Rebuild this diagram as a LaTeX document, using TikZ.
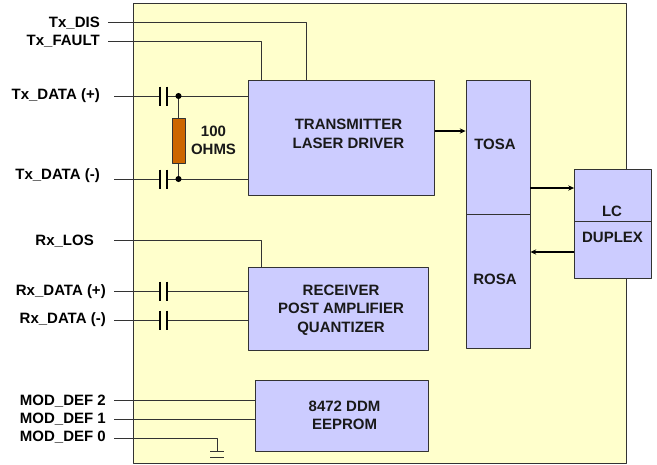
\documentclass[tikz,border=0pt]{standalone}
\usepackage{fontspec}
\setmainfont{Liberation Sans}
\usetikzlibrary{arrows.meta}
\definecolor{modyellow}{HTML}{FFFFCC}
\definecolor{blockblue}{HTML}{CCCCFF}
\definecolor{resbrown}{HTML}{CC6600}
\definecolor{wiregray}{HTML}{333333}
\tikzset{
  block/.style={draw=wiregray, line width=.7pt, fill=blockblue, inner sep=0pt},
  sig/.style={anchor=east, inner sep=0pt, font=\fontsize{12.8}{15.8}\selectfont\bfseries},
  blocktext/.style={align=center, inner sep=0pt, font=\fontsize{12.8}{15.8}\selectfont\bfseries, text=black!90},
  wire/.style={draw=wiregray, line width=.7pt},
  flow/.style={draw=black, line width=.9pt, -{Stealth[length=5pt,width=4.5pt]}},
  plate/.style={draw=black, line width=1.3pt}
}
\begin{document}
\begin{tikzpicture}[x=.03cm, y=-.03cm, line join=round]
		\useasboundingbox (0,0) rectangle (657,464);
		% module outline
		\node[draw=wiregray, line width=.7pt, fill=modyellow, inner sep=0pt, minimum width=14.79cm, minimum height=13.8cm] (module) at (379.75,233.25) {};
		% signal names
		\foreach \n/\x/\y/\t in {txdis/100/23/Tx\_DIS, txfault/100/41/Tx\_FAULT, txp/100/96/Tx\_DATA (+), txn/100/176/Tx\_DATA (-), rxlos/94/241/Rx\_LOS, rxp/106/292/Rx\_DATA (+), rxn/106/320/Rx\_DATA (-), modb/106/401/MOD\_DEF 2, moda/106/419/MOD\_DEF 1, modz/106/437/MOD\_DEF 0}
		\node[sig] (\n) at (\x,\y) {\t};
		% free ends of the wires
		\foreach \n/\x/\y in {txdiss/108/22, txfaults/108/41, txps/114/96, txns/114/179, rxloss/114/240, rxps/114/291, rxns/114/320, modbs/114/400, modas/114/419, modzs/114/438, txdise/306/80, txfaulte/261.5/80, rxlose/261.5/267, gnd/217/451}
		\coordinate (\n) at (\x,\y);
		% blocks
		\node[block, minimum width=5.58cm, minimum height=3.45cm] (driver) at (341.5,137.5) {};
		\node[block, minimum width=5.385cm, minimum height=2.49cm] (receiver) at (338.25,308.5) {};
		\node[block, minimum width=5.19cm, minimum height=2.13cm] (eeprom) at (341.5,415.5) {};
		\node[block, minimum width=1.92cm, minimum height=4.02cm] (tosa) at (498,147) {};
		\node[block, minimum width=1.92cm, minimum height=4.02cm] (rosa) at (498,281) {};
		\node[block, minimum width=2.295cm, minimum height=1.56cm] (lcup) at (612.75,195) {};
		\node[block, minimum width=2.295cm, minimum height=1.71cm] (lcdown) at (612.75,249.5) {};
		\node[blocktext] (drivertext) at (348.5,134) {TRANSMITTER\\LASER DRIVER};
		\node[blocktext] (receivertext) at (341,310) {RECEIVER\\POST AMPLIFIER\\QUANTIZER};
		\node[blocktext] (eepromtext) at (344.5,415.5) {8472 DDM\\EEPROM};
		\node[blocktext] (tosatext) at (495,144) {TOSA};
		\node[blocktext] (rosatext) at (495,279) {ROSA};
		\node[blocktext] (lctext) at (612,211) {LC};
		\node[blocktext] (duplextext) at (612.5,237) {DUPLEX};
		\node[blocktext] (ohms) at (213.5,140.5) {100\\OHMS};
		% wires
		\draw[wire] (txdiss)-|(txdise) (txfaults)-|(txfaulte) (rxloss)-|(rxlose) (modzs)-|(gnd);
		\draw[wire] (modbs)--(modbs-|eeprom.west) (modas)--(modas-|eeprom.west);
		\foreach \d in {txp,txn,rxp,rxn}{
		\coordinate (\d a) at (\d s-|160,0);
		\coordinate (\d b) at (\d s-|167,0);
		\draw[wire] (\d s)--(\d a) (\d b)--(\d b-|driver.west);
		\draw[plate] (\d a)+(0,-9.5)--+(0,9.5) (\d b)+(0,-9.5)--+(0,9.5);
		}
		% termination
		\node[draw=wiregray, line width=.7pt, fill=resbrown, inner sep=0pt, minimum width=.39cm, minimum height=1.35cm] (resistor) at (178.5,140.5) {};
		\coordinate (dotp) at (resistor.center|-0,96);
		\coordinate (dotn) at (resistor.center|-0,179);
		\draw[wire] (dotp)--(resistor.north) (resistor.south)--(dotn);
		\foreach \d in {dotp,dotn}
		\fill[black] (\d) circle (2.6pt);
		% ground
		\draw[wire] (gnd)+(-7,0)--+(7,0) (gnd)+(-7,6)--+(7,6);
		% signal flow
		\draw[flow] (driver.east|-0,131)--(tosa.west|-0,131);
		\draw[flow] (tosa.east|-0,188)--(lcup.west|-0,188);
		\draw[flow] (lcdown.west|-0,252)--(rosa.east|-0,252);
		\end{tikzpicture}
\end{document}
